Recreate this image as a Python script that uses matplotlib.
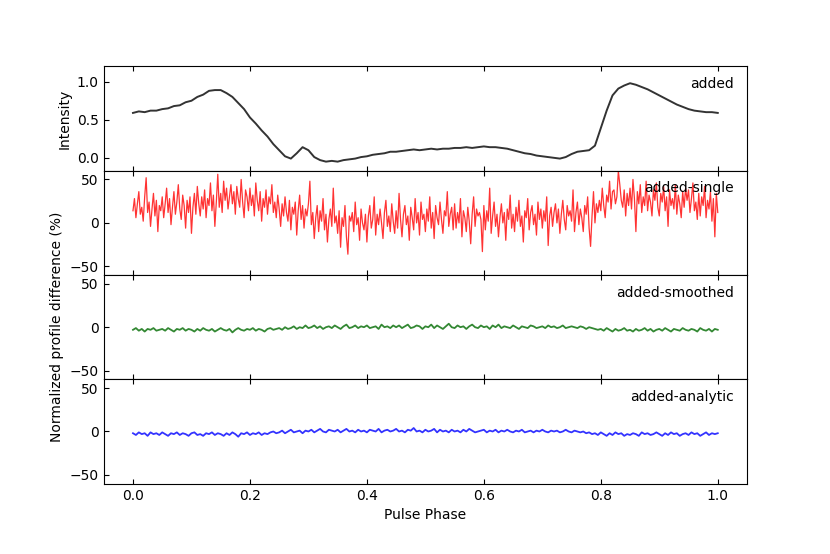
import numpy as np
import matplotlib
matplotlib.use("Agg")
import matplotlib.pyplot as plt

# pulse phase grids
PhaseProfile = np.linspace(0.0, 1.0, 101)
PhaseSingle = np.linspace(0.0, 1.0, 401)
PhaseDiff = np.linspace(0.0, 1.0, 201)

# added profile (normalized intensity)
Added = [0.59, 0.61, 0.60, 0.62, 0.62, 0.64, 0.65, 0.68, 0.69, 0.73,
         0.75, 0.80, 0.83, 0.88, 0.89, 0.89, 0.85, 0.80, 0.72, 0.64,
         0.53, 0.45, 0.36, 0.28, 0.18, 0.10, 0.02, -0.01, 0.06, 0.14,
         0.10, 0.01, -0.03, -0.05, -0.04, -0.05, -0.03, -0.02, -0.01, 0.01,
         0.02, 0.04, 0.05, 0.06, 0.08, 0.08, 0.09, 0.10, 0.11, 0.10,
         0.11, 0.12, 0.11, 0.12, 0.12, 0.13, 0.13, 0.14, 0.13, 0.14,
         0.15, 0.14, 0.14, 0.13, 0.12, 0.10, 0.08, 0.06, 0.05, 0.03,
         0.02, 0.01, 0.00, -0.01, 0.01, 0.05, 0.08, 0.09, 0.10, 0.16,
         0.39, 0.62, 0.82, 0.91, 0.95, 0.98, 0.96, 0.93, 0.90, 0.86,
         0.82, 0.78, 0.74, 0.70, 0.67, 0.64, 0.62, 0.61, 0.60, 0.60,
         0.59]

# normalized profile differences (%)
AddedSingle = [14, 28, 6, 22, 36, 10, 18, 2, 30, 52,
               12, 24, -4, 16, 34, 8, 26, -10, 20, 14,
               30, 6, 22, 40, 12, 28, -2, 18, 36, 10,
               24, 44, 16, 4, 32, 20, -6, 26, 12, 30,
               -12, 18, 34, 10, 42, 22, 8, 30, 16, 38,
               6, 28, 20, 46, 14, 32, -4, 24, 56, 18,
               34, 12, 48, 26, 40, 16, 30, 44, 22, 36,
               10, 42, 28, 18, 50, 24, 6, 38, 30, 14,
               40, 20, 32, 8, 46, 26, 14, 36, 2, 28,
               18, 38, 10, 30, 22, 44, 12, 24, 6, 32,
               16, -4, 22, 8, 30, 12, 2, 26, -8, 18,
               10, 24, -14, 14, 32, 4, 20, -6, 16, 8,
               22, 48, -2, 12, -18, 6, 20, -10, 14, 2,
               28, -8, 10, -22, 4, 16, -4, 40, 0, 8,
               -12, 14, -28, 6, -4, 20, -16, -36, 8, 2,
               12, -10, 24, -2, 6, -20, 16, 0, -8, 10,
               -22, 8, 20, -6, 4, 30, -14, 10, -2, 16,
               0, -18, 12, 26, -4, 8, -10, 22, 2, -12,
               14, -6, 34, 4, -16, 10, 20, -2, 8, -20,
               18, 6, -8, 28, 0, 12, -14, 24, 4, 10,
               -10, 16, 2, 30, -6, 12, -18, 20, 6, -2,
               24, 4, -12, 14, 8, 36, -4, 10, 18, -8,
               22, -6, 12, 0, 28, -16, 14, 6, -10, 18,
               2, -24, 10, 30, -4, 16, 8, 12, 4, -33,
               20, -8, 14, 2, 40, -12, 8, 24, -4, 10,
               -16, 6, 22, 0, 12, -20, 16, 4, 32, -6,
               10, -10, 18, 2, 26, -4, 8, -22, 14, 6,
               28, -8, 12, 20, -2, 10, -14, 24, 4, 16,
               -6, 14, 2, 30, -26, 8, 18, -4, 12, 22,
               0, 16, -12, 10, 26, 4, -8, 20, 8, 14,
               2, 38, -10, 12, 24, -2, 16, 6, -10, 20,
               10, 30, -6, -27, 8, 36, 0, 22, 12, 26,
               14, 40, 20, 6, 32, 24, 48, 16, 36, 38,
               22, 30, 60, 44, 26, 18, 38, 8, 34, 20,
               40, 16, 50, 28, -10, 36, 22, 44, 12, 30,
               20, 48, 14, 32, 24, 8, 38, 26, 46, 18,
               8, 34, 24, 42, 14, 30, -4, 38, 20, 28,
               16, 44, 10, 32, 22, 6, 36, 18, 40, 26,
               38, 12, 28, 46, 14, 24, 4, 34, 8, 30,
               20, 42, 6, 26, 16, 36, 2, 28, -16, 34,
               12]

AddedSmoothed = [-3, -1, -4, -2, -5, -2, -3, -1, -4, -3,
                 -2, -4, -1, -3, -5, -2, -3, -1, -4, -2,
                 -3, -5, -2, -4, -1, -3, -4, -2, -5, -3,
                 -1, -3, -4, -2, -6, -3, -1, -3, -4, -2,
                 -3, -1, -4, -2, -3, -5, -2, -1, -3, -2,
                 -1, -3, 0, -2, -1, 1, -2, 0, -1, 2,
                 -1, 0, 2, -1, 1, -2, 0, 1, -1, 2,
                 0, -2, 1, 3, -1, 0, 2, -1, 1, 0,
                 2, -1, 0, 1, -2, 3, 0, 1, -1, 2,
                 0, 2, -1, 1, 3, -1, 0, 2, 1, -2,
                 1, 0, 3, -1, 2, 0, -2, 1, 4, 0,
                 -1, 2, 0, 1, -2, 1, 3, 0, -1, 2,
                 0, 1, -2, 2, 0, 3, -1, 1, 0, -1,
                 2, 0, -2, 1, 0, -1, 2, 1, -1, 0,
                 1, -1, 2, 0, 1, -1, 0, 2, -1, 0,
                 1, 0, -1, 1, 0, -2, 0, -1, -2, -3,
                 -2, -4, -1, -3, -5, -2, -4, -3, -1, -4,
                 -3, -5, -2, -4, -3, -1, -4, -2, -5, -3,
                 -2, -4, -1, -3, -5, -2, -3, -4, -1, -3,
                 -4, -2, -3, -5, -1, -3, -4, -2, -5, -2,
                 -3]

AddedAnalytic = [-2, -4, -1, -3, -2, -5, -1, -3, -2, -4,
                 -1, -3, -5, -2, -3, -1, -4, -2, -3, -5,
                 -2, -1, -4, -3, -5, -2, -3, -1, -4, -2,
                 -3, -5, -2, -4, -1, -3, -6, -2, -3, -1,
                 -4, -2, -3, -1, -4, -2, -3, -1, 0, -2,
                 -1, 1, -2, 0, 2, -1, 0, 1, -2, 1,
                 0, 2, -1, 1, 3, 0, -1, 2, 1, 0,
                 2, -1, 1, 3, 0, 1, -1, 2, 0, 1,
                 -1, 2, 1, 0, 3, -1, 1, 2, 0, 1,
                 3, 0, 1, -1, 2, 1, 4, 0, 1, -1,
                 2, 0, 1, 3, -1, 2, 0, 1, -1, 2,
                 0, 1, -1, 2, 0, 3, 1, -1, 0, 1,
                 2, -1, 1, 0, 2, -1, 1, 0, 2, 0,
                 -1, 1, 0, 2, -1, 0, 1, -1, 1, 0,
                 2, 0, -1, 1, 0, 1, -1, 0, 2, 0,
                 -1, 1, 0, -1, 0, -2, -1, -3, -2, -4,
                 -1, -3, -5, -2, -4, -1, -3, -2, -5, -3,
                 -4, -2, -3, -5, -1, -3, -2, -4, -3, -1,
                 -3, -5, -2, -4, -1, -3, -2, -5, -3, -2,
                 -4, -1, -3, -2, -5, -3, -1, -4, -2, -3,
                 -2]

fig, axes = plt.subplots(4, 1, sharex=True, figsize=(8.3, 5.54), dpi=100)
fig.subplots_adjust(left=0.125, right=0.9, top=0.88, bottom=0.127, hspace=0)

axes[0].plot(PhaseProfile, Added, color="#333333", lw=1.4)
axes[0].set_ylim(-0.17, 1.2)
axes[0].set_yticks([0.0, 0.5, 1.0])
axes[0].set_ylabel("Intensity")
axes[0].text(0.98, 0.83, "added", transform=axes[0].transAxes, ha="right", va="center")

series = [(PhaseSingle, AddedSingle, "#ff3333", "added-single", 0.9),
          (PhaseDiff, AddedSmoothed, "#338833", "added-smoothed", 1.3),
          (PhaseDiff, AddedAnalytic, "#3333ff", "added-analytic", 1.3)]
for ax, (ph, vals, col, name, lw) in zip(axes[1:], series):
    ax.plot(ph, vals, color=col, lw=lw)
    ax.set_ylim(-60, 60)
    ax.set_yticks([-50, 0, 50])
    ax.text(0.98, 0.83, name, transform=ax.transAxes, ha="right", va="center")

axes[2].set_ylabel("Normalized profile difference (%)")

for ax in axes:
    ax.set_xlim(-0.05, 1.05)
    ax.tick_params(direction="in", top=True, bottom=True, left=True, right=False)

axes[3].set_xticks([0.0, 0.2, 0.4, 0.6, 0.8, 1.0])
axes[3].set_xlabel("Pulse Phase")

plt.savefig("out.png")
